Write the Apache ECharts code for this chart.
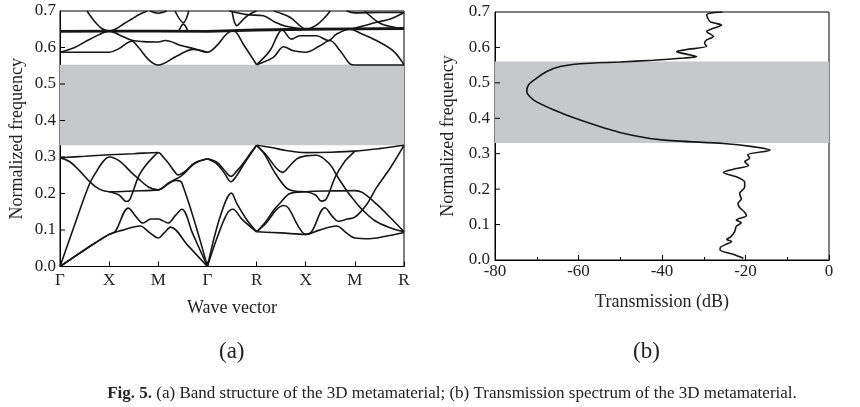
<!DOCTYPE html>
<html><head><meta charset="utf-8">
<script src="https://cdn.jsdelivr.net/npm/echarts@6/dist/echarts.min.js"></script>
<style>html,body{margin:0;padding:0;background:#fff}#c{width:860px;height:407px}</style>
</head><body><div id="c"></div>
<script>
// ---------- tick labels ----------
const kLabels = ['Γ','X','M','Γ','R','X','M','R'];
const freqTicks = [0.1,0.2,0.3,0.4,0.5,0.6];
const gapA = [0.332, 0.553];
const gapB = [0.33, 0.56];

// ---------- band structure (k position, normalized frequency) ----------
const bandL1 = [[0,0],[0.5,0.046],[1,0.088],[1.26,0.099],[1.63,0.111],[1.82,0.093],[2,0.078],[2.12,0.092],[2.25,0.108],[2.6,0.058],[3,0]];
const bandL2 = [[0,0],[0.5,0.045],[1,0.088],[1.12,0.095],[1.39,0.16],[1.55,0.136],[1.69,0.119],[1.85,0.13],[2,0.13],[2.1,0.125],[2.2,0.119],[2.35,0.14],[2.48,0.157],[2.7,0.09],[3,0]];
const bandLA = [[0,0],[0.3,0.115],[0.6,0.226],[0.75,0.262],[0.88,0.288],[1,0.3],[1.2,0.29],[1.45,0.258],[1.6,0.24],[1.8,0.218],[2,0.21],[2.2,0.226],[2.35,0.236],[2.48,0.229],[3,0]];
const bandD = [[0,0.298],[0.2,0.287],[0.4,0.262],[0.63,0.229],[0.8,0.212],[1,0.205],[1.5,0.207],[2,0.21],[2.2,0.228],[2.33,0.238],[2.45,0.246],[2.55,0.258],[2.74,0.282],[3,0.295]];
const bandV = [[1,0.205],[1.2,0.196],[1.35,0.178],[1.42,0.183],[1.6,0.247],[1.75,0.278],[1.94,0.306],[2,0.3125]];
const bandTop = [[0,0.298],[0.5,0.302],[1,0.306],[1.5,0.309],[2,0.3125],[2.1,0.3],[2.2,0.284],[2.32,0.262],[2.4,0.251],[2.54,0.26],[2.74,0.284],[3,0.295]];
const bandGR1 = [[3,0.295],[3.2,0.285],[3.35,0.263],[3.48,0.247],[3.6,0.262],[3.73,0.283],[3.9,0.315],[4,0.332]];
const bandGR2 = [[3,0.295],[3.2,0.28],[3.35,0.255],[3.48,0.232],[3.58,0.246],[3.73,0.278],[3.9,0.312],[4,0.332]];
const bandGR3 = [[3,0],[3.26,0.137],[3.49,0.201],[3.6,0.172],[3.8,0.128],[4,0.095]];
const bandGR4 = [[3,0],[3.2,0.08],[3.4,0.145],[3.52,0.157],[3.7,0.13],[4,0.095]];
const bandR1 = [[4,0.332],[4.3,0.326],[4.6,0.318],[5,0.312],[5.5,0.313],[6,0.316],[6.5,0.323],[7,0.332]];
const bandR2 = [[4,0.332],[4.2,0.305],[4.4,0.27],[4.53,0.258],[4.65,0.272],[4.82,0.295],[5,0.303],[5.22,0.305],[5.49,0.28],[5.66,0.243],[5.85,0.205],[6,0.179],[6.12,0.16],[6.4,0.126],[6.72,0.106],[7,0.095]];
const bandR3 = [[4,0.332],[4.15,0.31],[4.35,0.262],[4.6,0.216],[4.8,0.206],[5,0.205],[5.2,0.196],[5.32,0.179],[5.42,0.185],[5.6,0.245],[5.8,0.289],[5.94,0.308],[6,0.316]];
const bandR4 = [[4,0.095],[4.2,0.125],[4.35,0.155],[4.48,0.174],[4.68,0.2],[5,0.205],[5.5,0.207],[6,0.208],[6.15,0.203],[6.45,0.17],[6.75,0.13],[7,0.095]];
const bandR5 = [[4,0.095],[4.2,0.12],[4.4,0.155],[4.55,0.167],[4.65,0.16],[4.85,0.11],[5,0.088],[5.12,0.095],[5.39,0.161],[5.55,0.136],[5.66,0.124],[5.85,0.13],[6,0.135],[6.24,0.17],[6.44,0.216],[6.72,0.27],[7,0.332]];
const bandR6 = [[4,0.095],[4.5,0.092],[5,0.088],[5.26,0.099],[5.63,0.111],[5.82,0.093],[6,0.078],[6.3,0.076],[6.6,0.082],[7,0.093]];
// upper group
const bandThick = [[0,0.644],[1,0.645],[2,0.645],[3,0.644],[4,0.648],[5,0.65],[6,0.651],[7,0.652]];
const bandU2 = [[0,0.587],[0.5,0.587],[1,0.587],[1.2,0.597],[1.46,0.617],[1.6,0.6],[1.8,0.567],[2,0.552],[2.37,0.576],[2.71,0.595],[3,0.587]];
const bandU3 = [[0,0.587],[0.3,0.6],[0.54,0.618],[0.81,0.636],[1,0.645],[1.2,0.635],[1.46,0.62],[1.7,0.616],[2,0.615],[2.14,0.619],[2.48,0.605],[2.75,0.596],[3,0.587],[3.19,0.605],[3.39,0.637],[3.53,0.646],[3.73,0.609],[4,0.553]];
const bandU4 = [[4,0.553],[4.34,0.573],[4.55,0.602],[4.75,0.591],[5,0.587],[5.29,0.605],[5.49,0.619],[5.7,0.591],[5.9,0.555],[6,0.552],[7,0.552]];
const bandU5 = [[4,0.553],[4.27,0.591],[4.44,0.637],[4.52,0.648],[4.71,0.623],[4.88,0.632],[5,0.632],[5.22,0.632],[5.46,0.619],[5.63,0.637],[5.9,0.65],[6.1,0.64],[6.44,0.619],[6.78,0.591],[7,0.553]];
const bandT1 = [[0.55,0.7],[0.7,0.672],[0.85,0.652],[1,0.645],[1.15,0.652],[1.3,0.665],[1.46,0.678],[1.62,0.691],[1.78,0.7]];
const bandT2 = [[1.83,0.7],[2,0.694],[2.17,0.7]];
const bandT3 = [[2.34,0.7],[2.51,0.668],[2.62,0.7]];
const bandT4 = [[2.42,0.646],[2.51,0.664],[2.6,0.646]];
const bandT5 = [[3.5,0.7],[3.6,0.66],[3.75,0.68],[3.87,0.692],[4,0.7]];
const bandT6 = [[3.45,0.7],[3.8,0.69],[4.14,0.687],[4.38,0.669],[4.6,0.658],[5,0.65]];
const bandT7 = [[4.35,0.7],[4.68,0.683],[4.88,0.66],[5,0.65],[5.2,0.66],[5.36,0.678],[5.5,0.7]];
const bandT8 = [[5.83,0.7],[6,0.695],[6.5,0.696],[7,0.696]];
const bandT9 = [[5.95,0.651],[6.2,0.66],[6.44,0.669],[6.72,0.678],[7,0.696]];
const bandT10 = [[6.2,0.7],[6.48,0.669],[6.7,0.658],[7,0.652]];

const bands = [bandL1,bandL2,bandLA,bandD,bandV,bandTop,bandGR1,bandGR2,bandGR3,bandGR4,
  bandR1,bandR2,bandR3,bandR4,bandR5,bandR6,bandU2,bandU3,bandU4,bandU5,
  bandT1,bandT2,bandT3,bandT4,bandT5,bandT6,bandT7,bandT8,bandT9,bandT10];

// ---------- transmission spectrum ----------
const transFreq = [0.005,0.016,0.028,0.036,0.045,0.052,0.058,0.066,0.08,0.095,0.105,0.113,0.125,0.135,0.148,0.16,0.172,0.188,0.205,0.22,0.233,0.247,0.258,0.267,0.278,0.287,0.297,0.31,0.32,0.329,0.339,0.36,0.395,0.424,0.452,0.475,0.494,0.51,0.532,0.546,0.554,0.559,0.564,0.57,0.574,0.588,0.594,0.603,0.612,0.621,0.631,0.645,0.654,0.663,0.673,0.692,0.698,0.7];
const transDb = [-20.5,-23.0,-26.1,-26.0,-24.5,-23.3,-24.5,-23.5,-22.6,-22.2,-21.0,-22.2,-19.8,-20.2,-21.4,-21.8,-21.0,-21.4,-20.2,-20.2,-21.8,-25.3,-22.2,-19.3,-20.2,-19.0,-19.5,-14.1,-18.3,-25.3,-40.0,-50.1,-59.6,-66.0,-70.8,-72.4,-72.0,-70.4,-67.6,-64.4,-59.6,-50.1,-42.1,-34.9,-31.7,-36.5,-34.1,-29.3,-29.8,-29.3,-27.7,-29.3,-27.7,-25.7,-28.5,-29.3,-27.7,-25.5];

const FONT = 'Liberation Serif';
const INK = '#161616';
const chart = echarts.init(document.getElementById('c'), null, {renderer:'canvas'});

// inward y ticks drawn through each grid's own scales
function yTickSeries(xi, xAtAxis) {
  return {type:'custom', xAxisIndex:xi, yAxisIndex:xi, silent:true, z:6, clip:false,
    data: freqTicks.map(v => [xAtAxis, v]),
    renderItem: (params, api) => {
      const p = api.coord([api.value(0), api.value(1)]);
      return {type:'line', shape:{x1:p[0], y1:p[1], x2:p[0]+5, y2:p[1]}, style:{stroke:'#000', lineWidth:1}};
    }};
}

const series = [];
series.push({type:'line', xAxisIndex:0, yAxisIndex:0, data:[], z:1, silent:true,
  markArea:{silent:true, label:{show:false}, itemStyle:{color:'#c7c8ca'}, data:[[{xAxis:0,yAxis:gapA[0]},{xAxis:7,yAxis:gapA[1]}]]}});
bands.forEach(b => series.push({type:'line', xAxisIndex:0, yAxisIndex:0, data:b, smooth:0.35,
  showSymbol:false, silent:true, z:3, lineStyle:{color:INK, width:1.6}}));
series.push({type:'line', xAxisIndex:0, yAxisIndex:0, data:bandThick, showSymbol:false, silent:true, z:3,
  lineStyle:{color:INK, width:2.8}});
series.push({type:'line', xAxisIndex:1, yAxisIndex:1, data:[], z:1, silent:true,
  markArea:{silent:true, label:{show:false}, itemStyle:{color:'#c7c8ca'}, data:[[{xAxis:-80,yAxis:gapB[0]},{xAxis:0,yAxis:gapB[1]}]]}});
series.push({type:'line', xAxisIndex:1, yAxisIndex:1, data:transDb.map((d,i)=>[d, transFreq[i]]),
  smooth:0.25, showSymbol:false, silent:true, z:3, lineStyle:{color:INK, width:1.6}});
series.push(yTickSeries(0, 0));
series.push(yTickSeries(1, -80));

const lbl = {fontFamily:FONT, fontSize:17, color:'#222'};
const nm = {fontFamily:FONT, fontSize:18, color:'#222'};
const axLine = {show:true, onZero:false, lineStyle:{color:'#000', width:1}};
const tick = {show:true, inside:true, length:5, lineStyle:{color:'#000'}};

chart.setOption({
  animation:false,
  backgroundColor:'#fff',
  grid:[
    {left:60, top:11, width:344, height:255.5, show:true, borderColor:'#000', borderWidth:1, backgroundColor:'transparent'},
    {left:495, top:12, width:334, height:248, show:true, borderColor:'#000', borderWidth:1, backgroundColor:'transparent'}
  ],
  xAxis:[
    {type:'value', gridIndex:0, position:'bottom', min:0, max:7, interval:1,
     axisLine:axLine, axisTick:tick, splitLine:{show:false},
     axisLabel:Object.assign({margin:6, formatter:v=>kLabels[Math.round(v)]}, lbl),
     name:'Wave vector', nameLocation:'middle', nameGap:33, nameTextStyle:nm},
    {type:'value', gridIndex:1, position:'bottom', min:-80, max:0, interval:20,
     axisLine:axLine, axisTick:tick,
     minorTick:{show:true, splitNumber:2, length:3, lineStyle:{color:'#000'}},
     splitLine:{show:false}, minorSplitLine:{show:false},
     axisLabel:Object.assign({margin:3, formatter:v=>String(v)}, lbl),
     name:'Transmission (dB)', nameLocation:'middle', nameGap:33, nameTextStyle:nm}
  ],
  yAxis:[
    {type:'value', gridIndex:0, position:'left', min:0, max:0.7, interval:0.1,
     axisLine:axLine, axisTick:{show:false}, splitLine:{show:false},
     axisLabel:Object.assign({margin:4, formatter:v=>v.toFixed(1)}, lbl),
     name:'Normalized frequency', nameLocation:'middle', nameGap:34, nameTextStyle:nm},
    {type:'value', gridIndex:1, position:'left', min:0, max:0.7, interval:0.1,
     axisLine:axLine, axisTick:{show:false}, splitLine:{show:false},
     axisLabel:Object.assign({margin:5, formatter:v=>v.toFixed(1)}, lbl),
     name:'Normalized frequency', nameLocation:'middle', nameGap:38, nameTextStyle:nm}
  ],
  graphic:[
    {type:'text', left:219, top:340, style:{text:'(a)', font:'23px "Liberation Serif"', fill:'#222'}},
    {type:'text', left:633, top:340, style:{text:'(b)', font:'23px "Liberation Serif"', fill:'#222'}},
    {type:'text', x:452, y:385, style:{text:'{b|Fig. 5.} (a) Band structure of the 3D metamaterial; (b) Transmission spectrum of the 3D metamaterial.',
      font:'17px "Liberation Serif"', fill:'#222', align:'center', textAlign:'center',
      rich:{b:{fontWeight:'bold', fontFamily:'Liberation Serif', fontSize:17, fill:'#222'}}}}
  ],
  series:series
});
</script></body></html>
